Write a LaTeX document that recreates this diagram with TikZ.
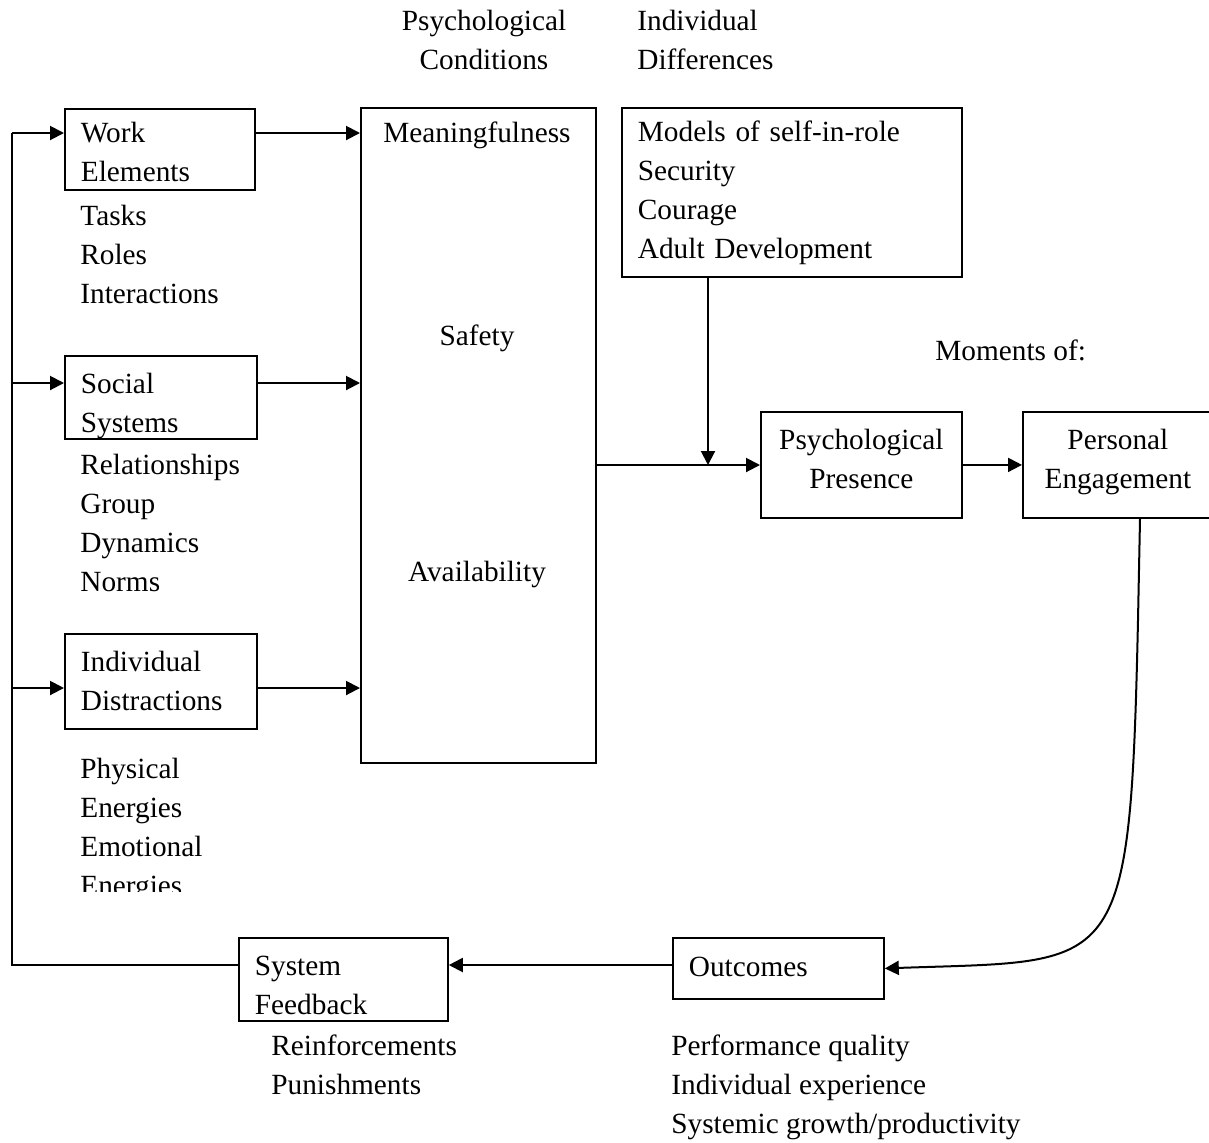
\documentclass[tikz,border=0pt]{standalone}
\usepackage{fontspec}
\setmainfont{Liberation Serif}
\usetikzlibrary{arrows.meta,positioning}

\tikzset{
  box/.style={draw, line width=0.9pt, rectangle, anchor=north west, inner xsep=8pt, inner ysep=0pt, align=left},
  cbox/.style={draw, line width=0.9pt, rectangle, anchor=north west, inner sep=0pt, align=center},
  lbl/.style={anchor=base west, inner sep=0pt, align=left},
  flow/.style={line width=1pt, -{Triangle[length=7pt,width=7pt]}},
}

\begin{document}
\begin{tikzpicture}[x=0.5pt, y=-0.5pt, font=\fontsize{14.65}{19.5}\selectfont]
    \useasboundingbox (0,0) rectangle (1209,1142);

    % headings (base = last line)
    \node[anchor=base, inner sep=0pt, align=center] (condhead) at (484,69) {Psychological\\Conditions};
    \node[lbl] (diffhead) at (637,69) {Individual\\Differences};
    \node[lbl] (moments) at (935,360) {Moments of:};

    % boxes
    \node[box, text width=79pt, minimum height=40.5pt] (work) at (64,108) {\rule{0pt}{13pt}Work\\Elements};
    \node[box, text width=80pt, minimum height=41.5pt] (social) at (64,355) {\rule{0pt}{18.5pt}Social\\Systems};
    \node[box, text width=80pt, minimum height=47.5pt] (distr) at (64,633) {Individual\\Distractions};
    \node[box, minimum width=117.5pt, minimum height=327.5pt] (cond) at (360,107) {};
    \node[box, text width=154pt, minimum height=84.5pt] (diff) at (621,107) {Models of self-in-role\\Security\\Courage\\Adult Development};
    \node[cbox, minimum width=100.5pt, minimum height=53pt] (presence) at (760,411) {Psychological\\Presence\strut};
    \node[cbox, minimum width=95pt, minimum height=53pt] (engage) at (1022,411) {Personal\\Engagement\strut};
    \node[box, text width=88.5pt, minimum height=41.5pt] (feedback) at (238,937) {\rule{0pt}{16pt}System\\Feedback};
    \node[box, text width=89.5pt, minimum height=30.5pt] (outcomes) at (672,937) {Outcomes\strut};

    % conditions
    \node[anchor=base, inner sep=0pt] (mean) at (477,142) {Meaningfulness};
    \node[anchor=base, inner sep=0pt] (safety) at (477,345) {Safety};
    \node[anchor=base, inner sep=0pt] (avail) at (477,581) {Availability};

    % lists (base = last line)
    \node[lbl] (tasks) at (80,303) {Tasks\\Roles\\Interactions};
    \node[lbl] (rel) at (80,591) {Relationships\\Group\\Dynamics\\Norms};
    \begin{scope}
        \clip (60,750) rectangle (320,891);
        \node[lbl] (energy) at (80,895) {Physical\\Energies\\Emotional\\Energies};
    \end{scope}
    \node[lbl] (reinf) at (271,1094) {Reinforcements\\Punishments};
    \node[lbl] (perf) at (671,1133) {Performance quality\\Individual experience\\Systemic growth/productivity};

    % feedback loop
    \coordinate (in1) at (12,133);
    \coordinate (in2) at (12,383);
    \coordinate (in3) at (12,688);
    \coordinate (loop) at (12,965);
    \draw[line width=0.8pt] (feedback.west |- loop) -- (loop) -- (in1);
    \draw[flow] (in1) -- (work.west |- in1);
    \draw[flow] (in2) -- (social.west |- in2);
    \draw[flow] (in3) -- (distr.west |- in3);

    % into conditions
    \draw[flow] (work.east |- in1) -- (cond.west |- in1);
    \draw[flow] (social.east |- in2) -- (cond.west |- in2);
    \draw[flow] (distr.east |- in3) -- (cond.west |- in3);

    % to presence and engagement
    \coordinate (join) at (708,465);
    \draw[flow] (cond.east |- join) -- (presence.west |- join);
    \draw[flow] (diff.south -| join) -- (join);
    \draw[flow] (presence.east) -- (engage.west);

    % outcomes and feedback
    \coordinate (down) at (1138,620);
    \draw[flow] (engage.south -| 1140,0) -- (down) .. controls (1130,980) and (1120,960) .. (outcomes.east);
    \draw[flow] (outcomes.west |- loop) -- (feedback.east |- loop);
\end{tikzpicture}
\end{document}
